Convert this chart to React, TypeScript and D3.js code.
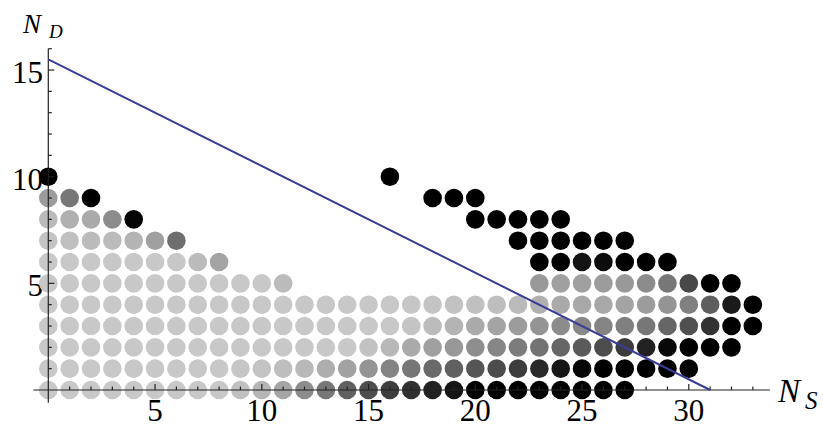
import React from 'react';
import * as d3 from 'd3';

// gray level (0-255) of the dot at each N_S, one array per N_D row; null = no dot
const row0 = [200, 200, 200, 200, 200, 200, 200, 200, 200, 192, 181, 165, 140, 119, 96, 77, 61, 48, 34, 20, 0, 0, 0, 0, 0, 0, 0, 0];
const row1 = [200, 200, 200, 200, 200, 200, 200, 200, 200, 198, 195, 190, 184, 174, 162, 148, 132, 118, 106, 96, 85, 76, 60, 42, 22, 6, 0, 0, 0, 0, 0];
const row2 = [200, 200, 200, 200, 200, 200, 200, 200, 200, 200, 200, 200, 200, 200, 200, 194, 184, 170, 160, 152, 142, 134, 124, 115, 102, 90, 77, 60, 34, 8, 0, 0, 0];
const row3 = [200, 200, 200, 200, 200, 200, 200, 200, 200, 200, 200, 200, 200, 200, 200, 200, 200, 196, 188, 180, 170, 164, 156, 148, 140, 136, 132, 128, 119, 102, 80, 50, 0, 0];
const row4 = [200, 200, 200, 200, 200, 200, 200, 200, 200, 200, 200, 200, 200, 200, 200, 200, 200, 198, 196, 194, 192, 190, 186, 176, 170, 168, 168, 164, 156, 148, 128, 94, 26, 0];
const row5 = [200, 200, 200, 200, 200, 200, 200, 200, 200, 200, 200, 187, null, null, null, null, null, null, null, null, null, null, null, 153, 160, 160, 156, 153, 140, 119, 72, 0, 0];
const row6 = [200, 200, 200, 200, 200, 200, 200, 187, 164, null, null, null, null, null, null, null, null, null, null, null, null, null, null, 0, 0, 20, 12, 0, 0, 0];
const row7 = [196, 192, 187, 187, 180, 160, 110, null, null, null, null, null, null, null, null, null, null, null, null, null, null, null, 0, 0, 0, 0, 0, 0];
const row8 = [187, 176, 170, 140, 5, null, null, null, null, null, null, null, null, null, null, null, null, null, null, null, 0, 0, 0, 0, 0];
const row9 = [156, 119, 0, null, null, null, null, null, null, null, null, null, null, null, null, null, null, null, 0, 0, 0];
const row10 = [0, null, null, null, null, null, null, null, null, null, null, null, null, null, null, null, 0];
const rows = [row0, row1, row2, row3, row4, row5, row6, row7, row8, row9, row10];

// the straight boundary line
const lineNS = [0, 31];
const lineND = [15.5, 0];

const xTickLabels = [5, 10, 15, 20, 25, 30];
const yTickLabels = [5, 10, 15];

const W = 823;
const H = 428;

const App = () => {
  const x = d3.scaleLinear().domain([0, 33]).range([48.3, 48.3 + 33 * 21.35]);
  const y = d3.scaleLinear().domain([0, 16]).range([390, 390 - 16 * 21.33]);

  const dots: { ns: number; nd: number; g: number }[] = [];
  rows.forEach((r, nd) => {
    r.forEach((g, ns) => {
      if (g !== null) dots.push({ ns, nd, g });
    });
  });

  const line = d3
    .line<number>()
    .x((_, i) => x(lineNS[i]))
    .y((d) => y(d));

  const xMinor = d3.range(1, 34);
  const yMinor = d3.range(1, 17);
  const font = '"Liberation Serif", "Times New Roman", serif';

  return (
    <svg
      width={W}
      height={H}
      style={{ position: 'absolute', left: 0, top: 0, background: 'white' }}
    >
      {/* tick labels (under the dots) */}
      <g fontFamily={font} fontSize={31} fill="#000">
        {xTickLabels.map((t) => (
          <text key={'x' + t} x={x(t)} y={421} textAnchor="middle">
            {t}
          </text>
        ))}
        {yTickLabels.map((t) => (
          <text key={'y' + t} x={43} y={y(t) + 13} textAnchor="end">
            {t}
          </text>
        ))}
      </g>

      {/* dots */}
      <g>
        {dots.map((d, i) => (
          <circle
            key={i}
            cx={x(d.ns)}
            cy={y(d.nd)}
            r={9.3}
            fill={d3.rgb(d.g, d.g, d.g).formatHex()}
          />
        ))}
      </g>

      {/* axes */}
      <g stroke="#222" strokeWidth={1.2} fill="none">
        <line x1={x(-0.7)} x2={x(33.8)} y1={y(0)} y2={y(0)} />
        <line x1={x(0)} x2={x(0)} y1={y(-0.6)} y2={y(16)} />
        {xMinor.map((t) => (
          <line
            key={'xm' + t}
            x1={x(t)}
            x2={x(t)}
            y1={y(0)}
            y2={y(0) - (t % 5 === 0 ? 6 : 3.5)}
          />
        ))}
        {yMinor.map((t) => (
          <line
            key={'ym' + t}
            x1={x(0)}
            x2={x(0) + (t % 5 === 0 ? 6 : 3.5)}
            y1={y(t)}
            y2={y(t)}
          />
        ))}
      </g>

      {/* boundary line */}
      <path d={line(lineND) || ''} stroke="#3b3b9c" strokeWidth={2} fill="none" />

      {/* axis titles */}
      <g fontFamily={font} fontStyle="italic" fill="#000">
        <text x={23} y={33} fontSize={27}>N</text>
        <text x={49} y={38} fontSize={19}>D</text>
        <text x={778} y={402} fontSize={33}>N</text>
        <text x={805} y={409} fontSize={25}>S</text>
      </g>
    </svg>
  );
};

export default App;
